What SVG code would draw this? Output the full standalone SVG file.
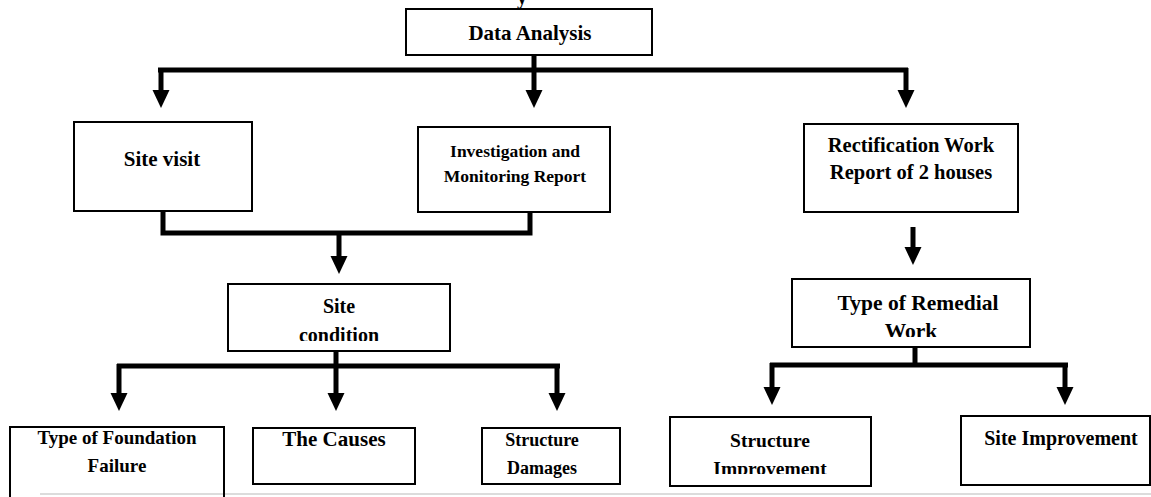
<svg xmlns="http://www.w3.org/2000/svg" width="1151" height="497" viewBox="0 0 1151 497">
<style>
.box{fill:#fff;stroke:#000;stroke-width:2}
.open{fill:none;stroke:#000;stroke-width:2}
.t{font-family:"Liberation Serif","Times New Roman",serif;font-weight:bold;fill:#000;text-anchor:middle}
.c{fill:none;stroke:#000;stroke-width:5;stroke-linecap:butt;stroke-linejoin:miter}
.a{fill:none;stroke:#000;stroke-width:5;marker-end:url(#ah)}
</style>
<defs>
<marker id="ah" markerUnits="userSpaceOnUse" markerWidth="19" markerHeight="18" refX="0" refY="8.5" orient="auto" overflow="visible">
<path d="M0,0 L18,8.5 L0,17 z" fill="#000"/>
</marker>
<clipPath id="clipSC"><rect x="228" y="284" width="222" height="57"/></clipPath>
<clipPath id="clipRW"><rect x="792" y="279" width="238" height="58"/></clipPath>
<clipPath id="clipSD"><rect x="482" y="428" width="138" height="50"/></clipPath>
<clipPath id="clipSI"><rect x="670" y="417" width="201" height="57"/></clipPath>
</defs>
<rect width="1151" height="497" fill="#fff"/>
<text class="t" x="522" y="4" font-size="20">y</text>
<line x1="40" y1="494" x2="1151" y2="494" stroke="#dcdcdc" stroke-width="2"/>

<g id="connectors">
<path class="c" d="M158,70 H908"/>
<line class="a" x1="534" y1="55" x2="534" y2="90"/>
<line class="a" x1="161" y1="68" x2="161" y2="90"/>
<line class="a" x1="906" y1="68" x2="906" y2="90"/>
<path class="c" d="M163,211 V233 H530 V212"/>
<line class="a" x1="339" y1="231" x2="339" y2="256"/>
<line class="a" x1="913" y1="227" x2="913" y2="247"/>
<path class="c" d="M336,351 V366"/>
<path class="c" d="M117,366 H560"/>
<line class="a" x1="119" y1="364" x2="119" y2="393"/>
<line class="a" x1="336" y1="364" x2="336" y2="393"/>
<line class="a" x1="557" y1="364" x2="557" y2="393"/>
<path class="c" d="M915,347 V365"/>
<path class="c" d="M770,365 H1068"/>
<line class="a" x1="772" y1="363" x2="772" y2="387"/>
<line class="a" x1="1065" y1="363" x2="1065" y2="387"/>
</g>

<g id="data-analysis">
<rect class="box" x="406" y="9" width="246" height="46"/>
<text class="t" x="530" y="40" font-size="21">Data Analysis</text>
</g>
<g id="site-visit">
<rect class="box" x="74" y="122" width="178" height="89"/>
<text class="t" x="162" y="166" font-size="21">Site visit</text>
</g>
<g id="investigation">
<rect class="box" x="418" y="127" width="192" height="85"/>
<text class="t" x="515" y="157" font-size="17.5">Investigation and</text>
<text class="t" x="515" y="182" font-size="17.5">Monitoring Report</text>
</g>
<g id="rectification">
<rect class="box" x="804" y="124" width="214" height="88"/>
<text class="t" x="911" y="152" font-size="20.5">Rectification Work</text>
<text class="t" x="911" y="179" font-size="20.5">Report of 2 houses</text>
</g>
<g id="site-condition">
<rect class="box" x="228" y="284" width="222" height="67"/>
<g clip-path="url(#clipSC)">
<text class="t" x="339" y="313" font-size="20">Site</text>
<text class="t" x="339" y="342" font-size="20">condition</text>
</g>
</g>
<g id="remedial-work">
<rect class="box" x="792" y="279" width="238" height="68"/>
<g clip-path="url(#clipRW)">
<text class="t" x="918" y="310" font-size="21.5">Type of Remedial</text>
<text class="t" x="911" y="338" font-size="21.5">Work</text>
</g>
</g>
<g id="foundation-failure">
<path class="open" d="M10,497 V427 H224 V497"/>
<text class="t" x="117" y="444" font-size="19">Type of Foundation</text>
<text class="t" x="117" y="472" font-size="19">Failure</text>
</g>
<g id="causes">
<rect class="box" x="253" y="428" width="162" height="56"/>
<text class="t" x="334" y="446" font-size="21">The Causes</text>
</g>
<g id="structure-damages">
<rect class="box" x="482" y="428" width="138" height="56"/>
<g clip-path="url(#clipSD)">
<text class="t" x="542" y="446" font-size="18">Structure</text>
<text class="t" x="542" y="474" font-size="18">Damages</text>
</g>
</g>
<g id="structure-improvement">
<rect class="box" x="670" y="417" width="201" height="69"/>
<g clip-path="url(#clipSI)">
<text class="t" x="770" y="447" font-size="19.5">Structure</text>
<text class="t" x="770" y="475" font-size="19.5">Improvement</text>
</g>
</g>
<g id="site-improvement">
<rect class="box" x="961" y="416" width="189" height="69"/>
<text class="t" x="1061" y="445" font-size="20">Site Improvement</text>
</g>
</svg>
